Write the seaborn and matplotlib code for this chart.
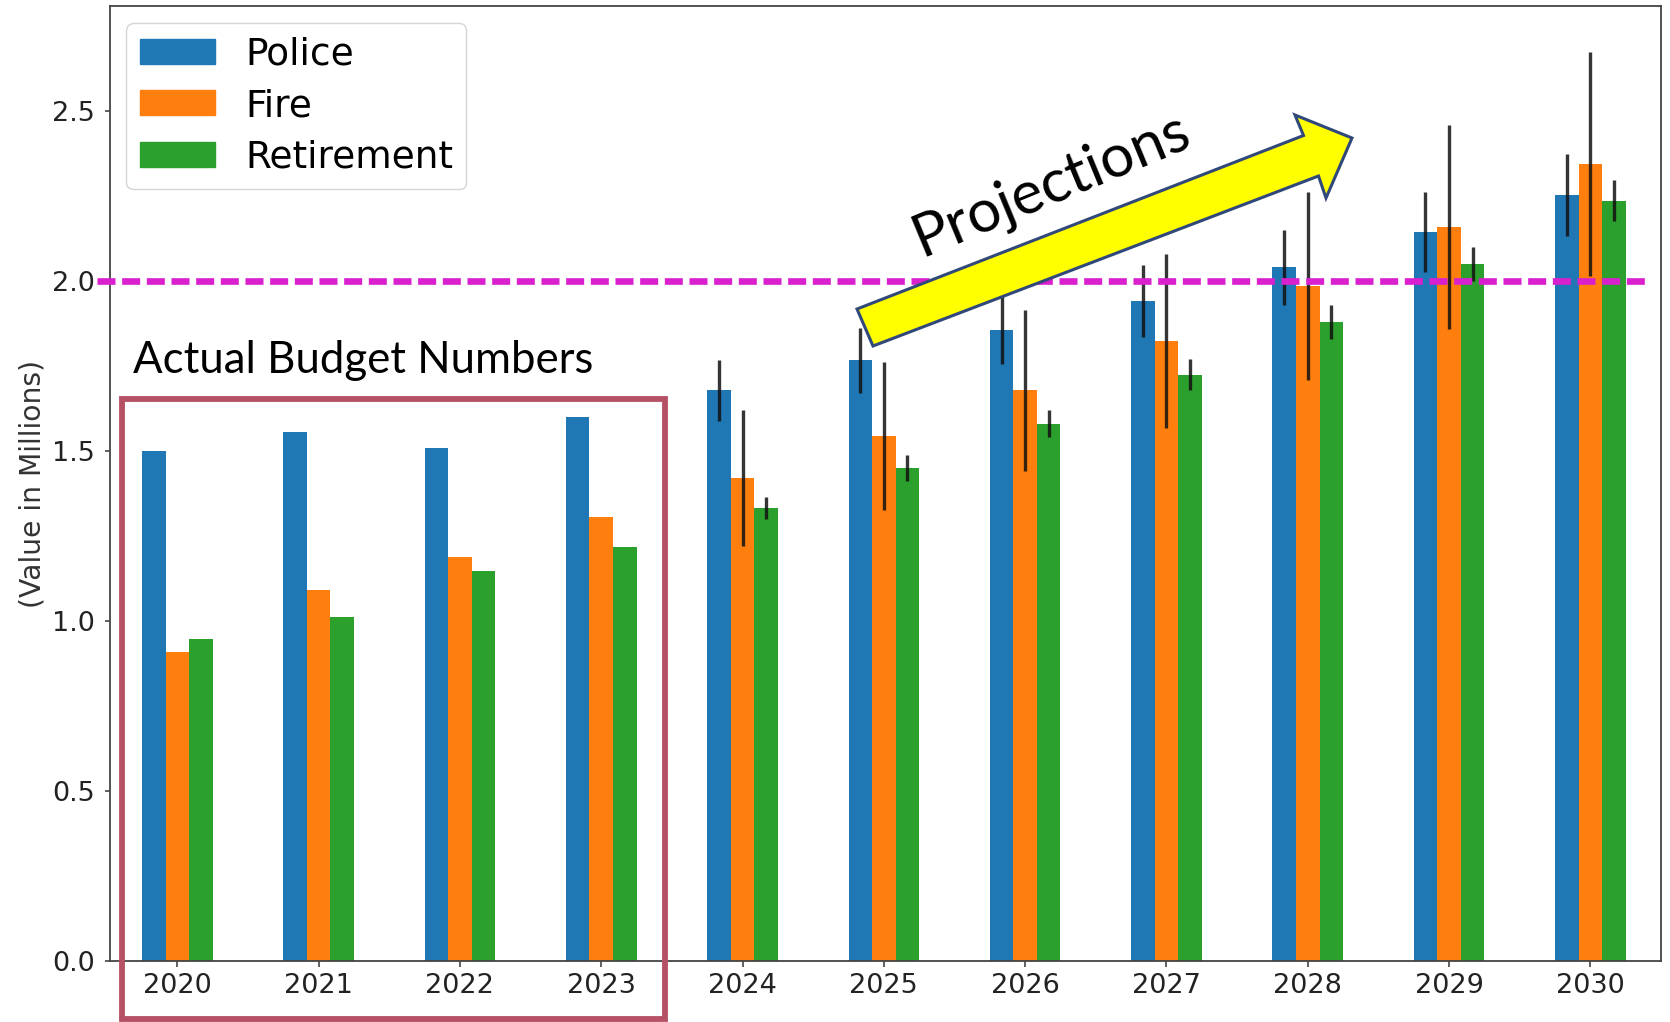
import numpy as np
import pandas as pd
import seaborn as sns
import matplotlib.pyplot as plt
from matplotlib.patches import Patch, Polygon, Rectangle

# Бюджеты по годам (млн), 2020-2023 факт, 2024-2030 прогноз
years = ['2020', '2021', '2022', '2023', '2024', '2025', '2026', '2027', '2028', '2029', '2030']
police = [1.500, 1.555, 1.508, 1.600, 1.679, 1.767, 1.855, 1.941, 2.041, 2.144, 2.253]
fire = [0.910, 1.090, 1.189, 1.306, 1.421, 1.545, 1.679, 1.824, 1.985, 2.160, 2.345]
retirement = [0.946, 1.013, 1.147, 1.218, 1.332, 1.451, 1.580, 1.725, 1.881, 2.051, 2.237]

# Погрешности прогнозов (для факта их нет)
nan = np.nan
police_err = [nan, nan, nan, nan, 0.090, 0.095, 0.100, 0.105, 0.110, 0.117, 0.120]
fire_err = [nan, nan, nan, nan, 0.200, 0.218, 0.237, 0.257, 0.277, 0.300, 0.330]
retirement_err = [nan, nan, nan, nan, 0.033, 0.038, 0.040, 0.046, 0.050, 0.050, 0.060]

depts = ['Police', 'Fire', 'Retirement']
colors = ['#1f77b4', '#ff7f0e', '#2ca02c']

df = pd.DataFrame({
    'year': years * 3,
    'dept': [d for d in depts for _ in years],
    'value': police + fire + retirement,
})

W, H = 1670, 1022
fig = plt.figure(figsize=(W / 100, H / 100), dpi=100)
ax = fig.add_axes([0.06557, 0.05969, 0.92904, 0.93405])

# сгруппированные столбцы
sns.barplot(data=df, x='year', y='value', hue='dept', hue_order=depts,
            palette=colors, width=0.5, errorbar=None, saturation=1,
            linewidth=0, legend=False, ax=ax)

# усы погрешностей по центрам столбцов
for cont, errs in zip(ax.containers, [police_err, fire_err, retirement_err]):
    for bar in cont:
        cx = bar.get_x() + bar.get_width() / 2
        e = errs[int(round(cx))]
        if np.isnan(e):
            continue
        ax.errorbar(cx, bar.get_height(), yerr=e, fmt='none', ecolor='#111111',
                    elinewidth=2.4, alpha=0.85, capsize=0, zorder=3)

ax.set_xlim(-0.48, 10.5)
ax.set_ylim(0, 2.808)
ax.set_yticks([0.0, 0.5, 1.0, 1.5, 2.0, 2.5])
ax.set_xlabel('')
ax.set_ylabel('(Value in Millions)', fontsize=20.3, color='#333333', labelpad=3.6)
ax.tick_params(axis='both', labelsize=19.5, labelcolor='#222222', color='#444444',
               width=1.2)
ax.tick_params(axis='x', length=4.5, pad=4)
ax.tick_params(axis='y', length=3.6, pad=7)
for sp in ax.spines.values():
    sp.set_color('#444444')
    sp.set_linewidth(1.3)

# легенда
handles = [Patch(color=c) for c in colors]
ax.legend(handles, depts, loc='upper left', fontsize=27, handlelength=2.0,
          handleheight=0.65, labelspacing=0.42, borderpad=0.35, borderaxespad=0.45,
          handletextpad=0.82, edgecolor='#d5d5d5', framealpha=1)

# пунктир на уровне 2.0
x0 = (97 - 109.5) / (1661 - 109.5)
x1 = (1647 - 109.5) / (1661 - 109.5)
ax.axhline(2.0, xmin=x0, xmax=x1, color='#D920CE', lw=4.8,
           linestyle=(0, (2.7, 1.0)), clip_on=False, zorder=5)


def fp(x, y):
    # пиксели картинки (от верхнего левого угла) -> доли фигуры
    return (x / W, 1 - y / H)


# рамка вокруг фактических данных
rx, ry = fp(122, 1018.5)
fig.add_artist(Rectangle((rx, ry), (665 - 122) / W, (1018.5 - 398.5) / H,
                         fill=False, ec='#B65064', lw=4.2,
                         transform=fig.transFigure))
fig.text(*fp(133, 373), 'Actual Budget Numbers', fontsize=31.5, family='Lato',
         ha='left', va='baseline')

# стрелка прогноза
arrow_pts = [(857, 309), (873, 346), (1318.5, 176), (1326, 198),
             (1352, 138), (1295, 115), (1303.5, 135.5)]
fig.add_artist(Polygon([fp(x, y) for x, y in arrow_pts], closed=True,
                       fc='#FFFF00', ec='#30487A', lw=2.2,
                       transform=fig.transFigure))
fig.text(*fp(1051, 184), 'Projections', fontsize=43, family='Lato',
         rotation=22.5, rotation_mode='anchor', ha='center', va='center')

fig.savefig('out.png', dpi=100)
